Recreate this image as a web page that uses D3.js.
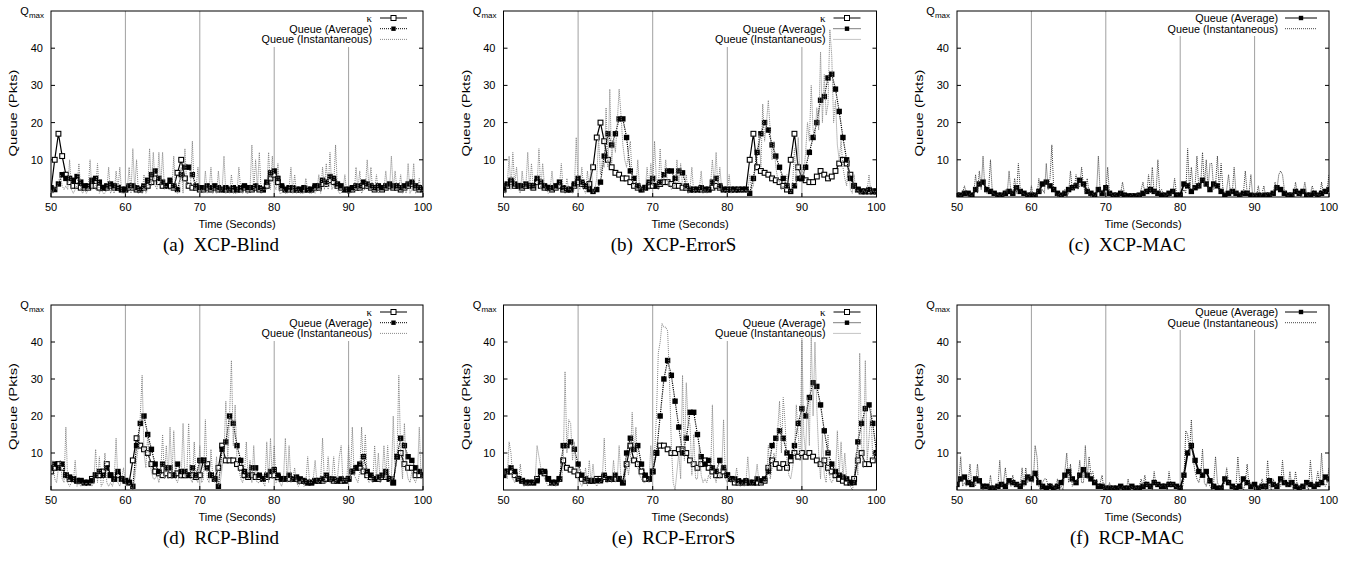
<!DOCTYPE html>
<html><head><meta charset="utf-8">
<script src="https://cdn.jsdelivr.net/npm/d3@7/dist/d3.min.js"></script>
<style>body{margin:0;background:#fff}svg{display:block}</style>
</head><body>
<svg id="c" width="1349" height="564"></svg>
<script>
// ---------- axis / labels ----------
const xTicks = [50, 60, 70, 80, 90, 100];
const yTicks = [10, 20, 30, 40];
const gridTimes = [60, 70, 80, 90];
const captions = ["(a)", "(b)", "(c)", "(d)", "(e)", "(f)"];
const names = ["XCP-Blind", "XCP-ErrorS", "XCP-MAC", "RCP-Blind", "RCP-ErrorS", "RCP-MAC"];
const seriesNames = ["\u03ba", "Queue (Average)", "Queue (Instantaneous)"];
const tStart = 50, instStep = 0.25, avgStep = 0.5;

// ---------- (a) XCP-Blind ----------
const instA = [2,1,3,2, 4,6,3,2, 3,2,10,2, 1,2,3,9, 2,1,2,1, 2,10,2,3, 2,9,1,2, 1,1,2,8, 1,2,1,7, 2,8,1,1,
 1,2,8,1, 13,2,10,1, 2,1,6,1, 2,13,3,12, 3,2,12,3, 12,2,3,2, 2,2,11,2, 1,2,8,1, 13,3,4,3, 15,2,2,8,
 1,2,1,7, 1,2,8,1, 2,1,7,1, 2,11,1,2, 1,6,1,1, 1,8,2,1, 2,1,1,2, 14,2,10,2, 12,1,2,2, 2,12,2,11,
 3,2,9,1, 1,2,1,1, 2,8,1,6, 1,2,1,1, 1,5,2,1, 1,2,1,2, 6,1,8,2, 9,2,12,2, 3,14,2,1, 1,2,6,1,
 1,1,2,1, 8,2,7,1, 2,2,10,2, 8,1,2,6, 1,2,1,2, 7,2,2,11, 2,7,2,2, 6,1,2,1, 9,1,2,9, 1,2,5,1, 2];
const avgA = [2.5,2, 3.5,6, 5,5, 4.5,5.5, 4,3, 3,4.5, 5,4, 2.5,3, 3.5,3, 2.5,2,
 2,3, 3,2.5, 2,3, 4.5,6, 7,5, 4,3, 4.5,3, 2,6, 8,8, 6,3,
 2.5,2.5, 3,2.5, 3,2.5, 2,2.5, 2,2.5, 2,2.5, 3,2.5, 2.5,3, 2.5,2, 4,6.5,
 7,5, 3,2, 2.5,2.5, 2,2, 2.5,2, 2,3, 3,4.5, 4,5.5, 5,3.5, 3,2,
 2,2.5, 3,3, 4,3.5, 3,2.5, 3,2.5, 3,3.5, 3,3, 2.5,3, 3.5,4, 3,2.5, 2];
const kapA = [2,10, 17,11, 6,4, 3,3, 2.5,2.5, 2.5,3, 3,2.5, 2.5,2.5, 3,2.5, 2.5,2,
 2,2.5, 2.5,2, 2,2.5, 3,4, 5,4, 3,3, 3,2.5, 6.5,10, 5,3, 2.5,2.5,
 2,2, 2.5,2, 2.5,2, 2,2, 2,2, 2,2, 2.5,2, 2,2.5, 2,2, 3,5,
 6,4, 2.5,2, 2,2, 2,2, 2,2, 2,2.5, 2.5,3.5, 3.5,4.5, 4,3, 2.5,2,
 2,2, 2.5,2.5, 3,3, 2.5,2, 2.5,2, 2.5,3, 2.5,2.5, 2,2.5, 3,3.5, 2.5,2, 2];

// ---------- (b) XCP-ErrorS ----------
const instB = [2,1,3,11, 2,12,3,8, 2,1,7,2, 3,12,2,9, 2,3,3,13, 2,9,3,2, 1,2,7,2, 2,2,3,9, 2,1,5,2, 2,1,2,16,
 3,2,8,2, 1,7,2,9, 1,2,5,16, 6,10,8,24, 8,29,9,16, 12,20,29,22, 14,10,8,12, 15,5,3,2, 10,2,3,1, 2,8,2,9,
 3,15,4,2, 13,3,5,10, 3,4,2,3, 3,10,4,9, 3,2,6,1, 2,8,1,2, 1,2,7,1, 2,1,2,3, 10,3,12,2, 8,2,1,2,
 1,6,1,2, 1,2,3,1, 2,1,2,1, 6,2,3,8, 10,17,8,25, 15,20,26,18, 10,15,8,5, 4,2,3,2, 6,2,1,3, 13,3,16,5,
 8,6,12,20, 15,30,18,16, 24,18,39,20, 33,22,25,45, 38,20,26,14, 10,15,8,5, 3,10,2,1, 6,1,2,1, 1,2,1,2, 6,1,2,1, 2];
const avgB = [2,3.5, 4.5,3.5, 3,3, 3.5,3, 3,5, 4,3, 2.5,2.5, 3,4, 2.5,2, 2,3.5,
 5,4, 3,2, 1.5,2, 4,11, 17,14, 17,21, 21,16, 7,5, 3,2, 2.5,4,
 5,3, 4,6, 7,7, 5,7, 6.5,3, 2,2, 2,2.5, 2,2, 4,5, 3,2,
 2,2, 2,2, 2,2, 1,5, 12,17, 20,18, 14,11, 8,5, 3,1.5, 3,5,
 5,8, 12,16, 20,26, 27,32, 33,29, 23,16, 10,5, 3,2, 1.5,1.5, 2,1.5, 1.5];
const kapB = [2,3, 4,3, 3,2.5, 3,3, 2.5,4, 3,2.5, 2.5,2, 2.5,3, 2,2, 2,3,
 4,3.5, 3,3.5, 8,16, 20,15, 10,8, 6.5,6, 5,5, 4,3, 2.5,2, 2.5,3,
 3,3, 3.5,4, 4,3.5, 3,3, 2.5,2.5, 2,2, 2,2, 2,2, 2.5,3, 2.5,2,
 2,2, 2,2, 2,2, 10,17, 8,7, 6.5,6, 5,4.5, 4,3, 2,10, 17,8,
 5,4.5, 4,4, 5.5,7, 6,5, 5.5,7, 9,10, 9,6, 3,2, 1.5,1.5, 1.5,1.5, 1.5];

// ---------- (c) XCP-MAC ----------
const instC = [0,1,0,1, 3,1,0,1, 0,1,6,1, 7,2,11,2, 1,2,10,1, 1,0,1,0, 1,0,2,1, 7,1,1,5, 1,9,2,1, 1,0,1,0,
 3,0,1,0, 5,1,2,1, 9,2,5,14, 2,1,0,1, 0,1,2,0, 1,7,2,2, 6,2,3,8, 3,1,5,1, 0,1,0,1, 11,1,2,1,
 1,8,1,1, 0,1,0,0, 1,4,1,0, 0,0,1,0, 0,1,0,2, 4,1,1,6, 1,8,1,1, 10,1,2,1, 0,1,0,1, 1,5,1,0,
 0,1,2,1, 13,2,8,2, 3,11,2,3, 12,3,10,2, 9,9,2,3, 11,2,9,2, 1,2,6,1, 1,8,1,1, 1,0,1,7, 1,1,6,0,
 1,0,3,0, 1,3,0,1, 1,0,1,4, 2,6,7,6, 2,1,0,1, 1,0,4,1, 1,0,1,4, 1,0,1,3, 1,0,1,0, 4,1,1,2, 6];
const avgC = [0.5,0.5, 1,1, 0.5,2, 3.5,4, 2,1.5, 1,0.5, 0.5,1, 1.5,1, 2.5,1.5, 1,0.5,
 0.5,0.5, 1.5,3.5, 4,3, 2,1, 0.5,1, 2,2.5, 3,4.5, 3.5,1.5, 1,0.5, 2,1,
 2.5,1, 0.5,0.5, 1,0.5, 0.3,0.3, 0.3,0.5, 1,1.5, 2,1.5, 1,0.5, 0.5,1, 1.5,0.5,
 0.5,3.5, 3,1.5, 2.5,3, 4.5,3.5, 2,3.5, 3,1.5, 0.5,1, 1.5,1, 0.5,1, 1,0.5,
 0.3,0.5, 0.3,0.5, 0.5,1, 2.5,2, 1,0.5, 0.5,1.5, 1,1.5, 0.5,0.5, 1,0.5, 1,1.5, 2];

// ---------- (d) RCP-Blind ----------
const instD = [5,8,3,2, 6,8,3,2, 17,2,1,2, 2,8,1,2, 1,2,1,2, 1,2,1,2, 11,2,9,1, 2,10,2,1, 2,1,3,14, 2,1,3,6,
 2,1,2,1, 0,3,8,12, 20,31,10,6, 15,8,5,3, 3,4,2,5, 15,3,12,3, 17,3,16,3, 2,4,3,18, 3,4,18,3, 2,13,3,2,
 12,2,3,19, 3,2,11,3, 2,9,1,2, 6,10,24,8, 20,35,12,23, 8,6,3,2, 4,13,3,8, 2,12,3,2, 2,3,2,1, 13,2,14,3,
 12,2,3,2, 1,3,14,2, 12,2,3,6, 2,1,2,3, 1,2,9,2, 2,3,8,2, 2,3,14,2, 2,9,2,3, 9,2,3,9, 12,2,3,2,
 12,3,17,4, 3,2,5,17, 5,15,3,2, 3,2,12,3, 10,2,3,12, 3,12,2,3, 20,5,8,31, 10,3,18,6, 3,2,5,3, 2,4,17,3, 4];
const avgD = [6,7, 6,7, 4,3.5, 3,2.5, 2.5,2, 2,2.5, 4,5, 4,6, 4,3, 5,3,
 2.5,2, 1,12, 18,20, 15,11, 7,5, 7,6, 6,4, 7,5, 5,4, 6,4,
 8,8, 6,4, 3,1, 11,13, 20,18, 12,8, 5,4, 6,6, 4,3, 4,5,
 5.5,4, 3,3, 4,3, 3.5,3, 2.5,2, 2,2.5, 2.5,3, 4,3, 3,2.5, 3,2.5,
 3,5, 6,7, 9,5, 4,3, 3.5,4, 5,3, 2,9, 14,12, 9,8, 6,5, 4];
const kapD = [5,6, 7,6, 4,3, 3,2.5, 2.5,2, 2,3, 4,4, 5,7, 4,3, 4,3,
 2.5,2, 8,14, 12,11, 10,7, 5,4.5, 4,4.5, 4,4, 4.5,4, 4,4, 4,3.5,
 4,8, 7,4, 3,6, 12,8, 8,8, 7,6, 4,3.5, 4,3.5, 3.5,3, 3.5,4,
 4,3.5, 3,3, 3,3, 3,2.5, 2.5,2, 2,2.5, 2.5,2.5, 3,3, 2.5,2.5, 2.5,2.5,
 3,5, 6,6, 5,4, 3.5,3, 3,3.5, 3.5,3, 2,9, 10,7, 6,6, 4,4, 4];

// ---------- (e) RCP-ErrorS ----------
const instE = [4,5,3,13, 10,3,2,4, 2,7,2,1, 2,1,2,1, 2,3,12,9, 6,5,3,2, 1,2,1,2, 1,2,2,3, 6,32,10,19, 18,8,13,4,
 3,2,1,2, 6,1,8,2, 7,2,1,2, 2,3,14,2, 2,3,2,8, 2,3,12,3, 3,2,8,4, 8,21,10,17, 6,4,3,2, 2,3,2,12,
 4,10,20,37, 40,45,44,44, 43,30,12,2, 0,5,10,3, 31,8,29,18, 18,4,15,3, 3,12,4,2, 3,2,4,3, 23,4,2,6, 3,5,19,3,
 2,4,2,3, 2,6,2,1, 2,1,2,9, 2,1,2,3, 7,2,1,2, 3,2,12,3, 6,10,8,16, 24,10,25,18, 8,4,3,6, 10,23,15,8,
 41,15,10,25, 12,42,20,40, 22,10,3,15, 4,2,15,3, 2,3,4,16, 4,13,3,10, 3,2,1,0, 2,10,4,37, 12,6,35,8, 14,22,8,10, 10];
const avgE = [4,5, 6,5, 3,2.5, 2,2, 2,2.5, 5,5, 3,2, 2,3, 12,12, 13,11,
 7,4, 3,2.5, 2.5,2.5, 2.5,4, 3,3, 4,3, 2,10, 14,11, 12,7, 4,3,
 5,10, 20,30, 35,31, 24,17, 10,14, 21,21, 15,9, 7,8, 6,5, 8,6,
 4,3, 3,2.5, 2,2.5, 2,2, 3,2.5, 3,5, 12,14, 16,14, 10,9, 12,18,
 22,20, 25,29, 28,23, 16,10, 7,5, 4,3.5, 3,2, 2,13, 18,22, 23,18, 10];
const kapE = [4,5, 5,4, 3,2.5, 2,2, 2,3, 5,4.5, 3,2, 2,3, 8,6, 5.5,5,
 4,3, 2.5,2.5, 2.5,3, 3,3.5, 3,3, 3,3, 2,7, 12,8, 7,5, 3,3,
 5,10, 12,12, 11,10, 10,11, 11,10, 8,7, 6,7, 8,6, 5,4, 4,5,
 4,3, 2,2, 2,2, 2,2, 2,2, 2.5,6, 8,7, 6,7, 6,8, 10,9,
 10,9, 10,9, 8,7, 8,6, 5,4, 3,2.5, 2,2, 3,8, 10,7, 7,8, 10];

// ---------- (f) RCP-MAC ----------
const instF = [1,2,9,1, 2,1,2,7, 1,2,1,7, 2,1,0,1, 1,0,4,0, 1,0,1,8, 1,2,6,1, 2,1,4,1, 1,2,1,6, 1,6,2,4,
 3,2,12,9, 1,0,2,3, 3,1,2,1, 1,0,3,0, 1,0,5,10, 2,7,1,2, 2,3,8,2, 2,12,3,9, 4,5,2,3, 1,2,4,0,
 1,0,2,0, 1,0,0,1, 0,1,0,0, 3,0,1,0, 1,0,1,3, 1,4,1,2, 1,0,5,1, 2,1,1,2, 1,0,5,1, 2,1,1,0,
 1,0,3,16, 15,10,19,8, 5,3,2,4, 11,2,1,3, 1,0,2,9, 2,1,0,1, 2,6,2,1, 1,0,1,9, 2,1,0,2, 7,1,2,1,
 1,0,1,0, 3,1,0,8, 1,0,3,1, 1,2,1,8, 2,1,1,5, 1,0,5,1, 1,0,1,2, 1,0,8,2, 1,2,5,1, 10,2,1,2, 6];
const avgF = [1.5,3, 3.5,2, 1.5,3, 2.5,1, 1,0.5, 0.5,1, 1.5,1, 2.5,2, 1.5,1, 2,3.5,
 3,4.5, 2,1, 0.5,1, 0.5,1, 2,4, 5,3, 2,4, 5.5,4, 3,2, 1,1,
 0.5,0.5, 0.5,0.5, 1,0.5, 0.5,1, 0.5,0.5, 1,1.5, 1,2, 1.5,1, 1,1.5, 1.5,1,
 0.5,4, 10,12, 8,5, 4,5, 2.5,1, 0.5,0.5, 3,2, 1,0.5, 1,3, 2,1,
 1.5,0.5, 1,1, 2.5,1.5, 1,3, 2,1.5, 2,1, 0.5,1, 2,1.5, 1,1.5, 2,3.5, 3];

const panels = [
  {inst: instA, avg: avgA, kap: kapA},
  {inst: instB, avg: avgB, kap: kapB},
  {inst: instC, avg: avgC, kap: null},
  {inst: instD, avg: avgD, kap: kapD},
  {inst: instE, avg: avgE, kap: kapE},
  {inst: instF, avg: avgF, kap: null}
];

// ---------- drawing ----------
const svg = d3.select("#c");
const SANS = "'Liberation Sans', Arial, sans-serif";
const SERIF = "'Liberation Serif', 'Times New Roman', serif";
const cols = [[51, 423], [503.5, 876.5], [957, 1329]];
const rows = [[11, 197], [305, 490]];

panels.forEach((p, k) => {
  const [l, r] = cols[k % 3];
  const [t, b] = rows[Math.floor(k / 3)];
  const x = d3.scaleLinear().domain([50, 100]).range([l, r]);
  const y = d3.scaleLinear().domain([0, 50]).range([b, t]);
  const g = svg.append("g");
  const hasK = !!p.kap;
  const legH = hasK ? 36 : 25;
  const legLeft = r - 163;

  // grid (vertical)
  gridTimes.forEach(v => {
    const xv = x(v);
    g.append("line").attr("x1", xv).attr("x2", xv)
      .attr("y1", xv > legLeft ? t + legH : t).attr("y2", b)
      .attr("stroke", "#a0a0a0").attr("stroke-width", 1);
  });

  // ticks (inward, mirrored)
  xTicks.forEach(v => {
    const xv = x(v);
    g.append("line").attr("x1", xv).attr("x2", xv).attr("y1", b).attr("y2", b - 4).attr("stroke", "#000");
  });
  yTicks.forEach(v => {
    g.append("line").attr("x1", l).attr("x2", l + 4).attr("y1", y(v)).attr("y2", y(v)).attr("stroke", "#000");
    g.append("line").attr("x1", r).attr("x2", r - 4).attr("y1", y(v)).attr("y2", y(v)).attr("stroke", "#000");
  });

  // legend
  const legX1 = hasK ? r - 43 : r - 44, legX2 = hasK ? r - 16 : r - 12;
  const entries = hasK ? [0, 1, 2] : [1, 2];
  entries.forEach((s, i) => {
    const cy = t + 7 + i * 10.7;
    const isK = s === 0;
    g.append("text").attr("x", r - 51).attr("y", cy + 3.8)
      .attr("text-anchor", "end")
      .attr("font-family", isK ? SERIF : SANS)
      .attr("font-size", isK ? 11 : 10.8)
      .text(seriesNames[s]);
    const ln = g.append("line").attr("x1", legX1).attr("x2", legX2).attr("y1", cy).attr("y2", cy)
      .attr("stroke-width", 1);
    const mx = (legX1 + legX2) / 2;
    if (s === 0) {
      ln.attr("stroke", "#000");
      g.append("rect").attr("x", mx - 2.5).attr("y", cy - 2.5).attr("width", 5).attr("height", 5)
        .attr("fill", "#fff").attr("stroke", "#000");
    } else if (s === 1) {
      ln.attr("stroke", "#000").attr("stroke-dasharray", hasK ? "1,1" : null);
      g.append("rect").attr("x", mx - 2.2).attr("y", cy - 2.2).attr("width", 4.4).attr("height", 4.4).attr("fill", "#000");
    } else {
      ln.attr("stroke", hasK ? "#8a8a8a" : "#444").attr("stroke-dasharray", "1,1");
    }
  });

  // data
  const cid = "clip" + k;
  svg.append("clipPath").attr("id", cid).append("rect")
    .attr("x", l).attr("y", t).attr("width", r - l).attr("height", b - t);
  const dg = g.append("g").attr("clip-path", `url(#${cid})`);
  const lineAvg = d3.line().x((d, i) => x(tStart + i * avgStep)).y(d => y(d));
  const lineInst = d3.line().x((d, i) => x(tStart + i * instStep)).y(d => y(d));

  if (hasK) {
    dg.append("path").attr("d", lineAvg(p.kap)).attr("fill", "none").attr("stroke", "#000").attr("stroke-width", 1.2);
    dg.selectAll(".km").data(p.kap).enter().append("rect")
      .attr("x", (d, i) => x(tStart + i * avgStep) - 2.4).attr("y", d => y(d) - 2.4)
      .attr("width", 4.8).attr("height", 4.8).attr("fill", "#fff").attr("stroke", "#000").attr("stroke-width", 1.1);
  }
  dg.append("path").attr("d", lineAvg(p.avg)).attr("fill", "none").attr("stroke", "#000")
    .attr("stroke-width", hasK ? 1.2 : 1.8).attr("stroke-dasharray", hasK ? "1.2,1" : null)
    .attr("stroke-linejoin", "round");
  dg.selectAll(".am").data(p.avg).enter().append("rect")
    .attr("x", (d, i) => x(tStart + i * avgStep) - 2.7).attr("y", d => y(d) - 2.7)
    .attr("width", 5.4).attr("height", 5.4).attr("fill", "#000");
  dg.append("path").attr("d", lineInst(p.inst)).attr("fill", "none")
    .attr("stroke", hasK ? "#808080" : "#3a3a3a").attr("stroke-width", 1).attr("stroke-dasharray", "1,1");

  // frame
  g.append("rect").attr("x", l).attr("y", t).attr("width", r - l).attr("height", b - t)
    .attr("fill", "none").attr("stroke", "#000").attr("stroke-width", 1);

  // x tick labels
  xTicks.forEach(v => {
    g.append("text").attr("x", x(v)).attr("y", b + 14).attr("text-anchor", "middle")
      .attr("font-family", SANS).attr("font-size", 11).text(v);
  });
  // y tick labels
  yTicks.forEach(v => {
    g.append("text").attr("x", l - 8).attr("y", y(v) + 4).attr("text-anchor", "end")
      .attr("font-family", SANS).attr("font-size", 11).text(v);
  });
  const qm = g.append("text").attr("x", l - 7).attr("y", t + 4).attr("text-anchor", "end")
    .attr("font-family", SANS).attr("font-size", 11);
  qm.append("tspan").text("Q");
  qm.append("tspan").attr("font-size", 8).attr("dy", 3).text("max");

  // axis titles
  g.append("text").attr("x", (l + r) / 2).attr("y", b + 31).attr("text-anchor", "middle")
    .attr("font-family", SANS).attr("font-size", 11).text("Time (Seconds)");
  const yl = l - 38, yc = (t + b) / 2 + 9;
  g.append("text").attr("transform", `translate(${yl + 4},${yc}) rotate(-90)`)
    .attr("text-anchor", "middle").attr("font-family", SANS).attr("font-size", 11)
    .attr("textLength", 87).attr("lengthAdjust", "spacingAndGlyphs").text("Queue (Pkts)");

  // caption
  const cap = g.append("text").attr("x", l + 170).attr("y", b + 54).attr("text-anchor", "middle")
    .attr("font-family", SERIF).attr("font-size", 19).attr("xml:space", "preserve");
  cap.text(captions[k] + "\u00a0 " + names[k]);
});
</script>
</body></html>
